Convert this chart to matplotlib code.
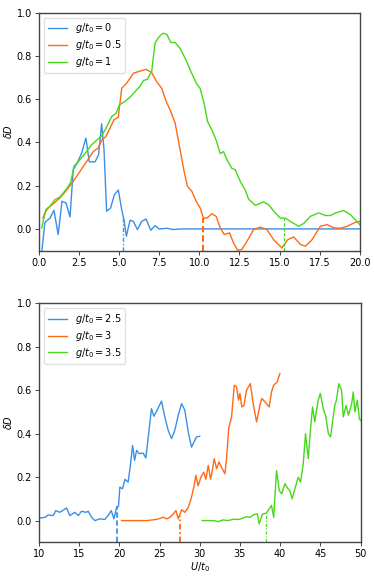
import matplotlib
matplotlib.use("Agg")
import matplotlib.pyplot as plt

# ---------- top panel data ----------
x_g0 = [0.19, 0.37, 0.69, 0.94, 1.2, 1.44, 1.69, 1.94, 2.14, 2.39, 2.66, 2.93, 3.14, 3.5, 3.72, 3.91,
        4.06, 4.22, 4.47, 4.7, 4.95, 5.16, 5.3, 5.45, 5.68, 5.89, 6.14, 6.41, 6.68, 6.97, 7.24, 7.5,
        7.97, 8.4, 8.8, 10.0, 12.0, 14.0, 16.0, 18.0, 20.0]
y_g0 = [-0.1, 0.03, 0.05, 0.086, -0.026, 0.128, 0.12, 0.055, 0.274, 0.305, 0.35, 0.42, 0.31, 0.31, 0.343, 0.486,
        0.366, 0.082, 0.097, 0.158, 0.18, 0.09, 0.043, -0.034, 0.04, 0.035, -0.003, 0.035, 0.046, -0.006, 0.015, 0.0,
        0.003, -0.003, 0.0, 0.0, 0.0, 0.0, 0.0, 0.0, 0.0]

x_g05 = [0.25, 0.37, 0.58, 0.9, 1.31, 1.73, 2.14, 2.56, 2.98, 3.39, 3.7, 3.91, 4.18, 4.43, 4.68, 4.95, 5.16,
         5.47, 5.89, 6.31, 6.68, 7.03, 7.35, 7.66, 7.93, 8.18, 8.49, 8.8, 9.05, 9.26, 9.53, 9.8, 10.05,
         10.26, 10.47, 10.78, 11.05, 11.3, 11.55, 11.88, 12.13, 12.38, 12.65, 12.97, 13.38, 13.8, 14.21,
         14.63, 15.15, 15.5, 15.88, 16.3, 16.61, 17.02, 17.54, 17.96, 18.38, 18.8, 19.2, 19.73, 20.0]
y_g05 = [0.05, 0.074, 0.097, 0.117, 0.143, 0.18, 0.22, 0.266, 0.312, 0.358, 0.374, 0.41, 0.428, 0.466, 0.505, 0.517, 0.65,
         0.674, 0.72, 0.73, 0.738, 0.723, 0.68, 0.65, 0.59, 0.55, 0.49, 0.366, 0.266, 0.197, 0.174, 0.128, 0.097,
         0.05, 0.05, 0.07, 0.058, 0.005, -0.026, -0.018, -0.065, -0.098, -0.095, -0.057, -0.003, 0.008, -0.003,
         -0.05, -0.088, -0.05, -0.037, -0.072, -0.08, -0.05, 0.012, 0.02, 0.005, 0.003, 0.012, 0.031, 0.035]

x_g1 = [0.17, 0.44, 0.69, 1.0, 1.31, 1.73, 1.98, 2.19, 2.56, 2.93, 3.29, 3.6, 3.91, 4.18, 4.54, 4.81, 5.02,
        5.37, 5.72, 5.99, 6.31, 6.51, 6.76, 7.03, 7.24, 7.45, 7.72, 7.97, 8.22, 8.49, 8.8, 9.18, 9.47, 9.84,
        10.05, 10.3, 10.51, 10.78, 11.05, 11.3, 11.51, 11.72, 12.03, 12.24, 12.55, 12.86, 13.07, 13.49, 14.0,
        14.32, 14.73, 15.05, 15.36, 15.67, 16.19, 16.5, 16.92, 17.44, 17.86, 18.17, 18.48, 19.0, 19.42, 20.0]
y_g1 = [0.005, 0.09, 0.105, 0.135, 0.148, 0.185, 0.215, 0.29, 0.32, 0.354, 0.39, 0.41, 0.43, 0.466, 0.52, 0.535, 0.574,
        0.59, 0.612, 0.635, 0.66, 0.686, 0.692, 0.728, 0.86, 0.885, 0.905, 0.9, 0.862, 0.862, 0.835, 0.78, 0.728, 0.67,
        0.65, 0.58, 0.497, 0.458, 0.41, 0.348, 0.358, 0.32, 0.28, 0.274, 0.22, 0.18, 0.138, 0.109, 0.125,
        0.112, 0.074, 0.05, 0.05, 0.035, 0.012, 0.025, 0.058, 0.074, 0.062, 0.062, 0.074, 0.085, 0.066, 0.02]

top_labels = [r"$g/t_0 = 0$", r"$g/t_0 = 0.5$", r"$g/t_0 = 1$"]
top_vx = [5.25, 10.25, 15.25]
top_vy = [0.05, 0.05, 0.05]

# ---------- bottom panel data ----------
x_g25 = [10.2, 10.75, 11.16, 11.78, 12.1, 12.6, 12.94, 13.44, 13.85, 14.48, 14.9, 15.3, 15.85, 16.13, 16.55,
         16.96, 17.58, 18.2, 18.6, 19.0, 19.33, 19.66, 19.9, 20.07, 20.4, 20.7, 21.1, 21.4, 21.65, 21.9, 22.15,
         22.48, 22.97, 23.3, 23.6, 24.0, 24.3, 24.7, 25.25, 25.66, 26.08, 26.5, 26.9, 27.33, 27.74, 28.15,
         28.57, 28.98, 29.6, 30.0]
y_g25 = [0.012, 0.015, 0.026, 0.023, 0.046, 0.038, 0.046, 0.058, 0.023, 0.038, 0.023, 0.043, 0.038, 0.043, 0.015,
         0.0, 0.008, 0.005, 0.023, 0.046, 0.008, 0.06, 0.065, 0.154, 0.146, 0.19, 0.177, 0.26, 0.346, 0.277, 0.323,
         0.308, 0.31, 0.288, 0.385, 0.515, 0.48, 0.508, 0.55, 0.477, 0.415, 0.377, 0.415, 0.485, 0.538, 0.508,
         0.408, 0.338, 0.385, 0.388]

x_g3 = [20.28, 21.7, 23.4, 24.6, 25.46, 25.88, 26.3, 26.7, 27.04, 27.33, 27.74, 28.15, 28.57, 28.98, 29.27,
        29.52, 29.8, 30.15, 30.5, 30.77, 31.06, 31.35, 31.6, 31.8, 32.1, 32.4, 32.7, 33.13, 33.34, 33.6, 33.96,
        34.3, 34.58, 34.83, 35.0, 35.24, 35.5, 35.82, 36.3, 36.65, 37.07, 37.48, 37.73, 38.3, 38.64, 38.93,
        39.2, 39.64, 39.97]
y_g3 = [0.0, 0.0, 0.0, 0.005, 0.015, 0.008, 0.015, 0.03, 0.046, 0.008, 0.05, 0.038, 0.06, 0.108, 0.154,
        0.208, 0.16, 0.2, 0.223, 0.19, 0.254, 0.19, 0.238, 0.285, 0.238, 0.27, 0.246, 0.215, 0.285, 0.423, 0.477,
        0.623, 0.615, 0.554, 0.585, 0.523, 0.53, 0.6, 0.63, 0.538, 0.454, 0.53, 0.562, 0.538, 0.523, 0.592,
        0.623, 0.638, 0.677]

x_g35 = [30.3, 31.7, 32.3, 32.9, 33.5, 34.2, 34.8, 35.3, 35.8, 36.3, 36.74, 37.15, 37.4, 37.8, 38.3, 38.64,
         38.93, 39.2, 39.55, 39.9, 40.2, 40.6, 41.0, 41.2, 41.5, 41.83, 42.25, 42.54, 42.87, 43.16, 43.5, 43.8,
         44.03, 44.3, 44.73, 45.0, 45.36, 45.7, 46.0, 46.27, 46.6, 46.8, 47.0, 47.3, 47.64, 47.85, 48.2, 48.5,
         48.9, 49.1, 49.3, 49.6, 49.85, 50.0]
y_g35 = [0.0, 0.0, -0.005, 0.003, 0.0, 0.006, 0.005, 0.01, 0.018, 0.015, 0.028, 0.03, -0.015, 0.03, 0.034, 0.054,
         0.07, 0.015, 0.23, 0.138, 0.123, 0.17, 0.146, 0.138, 0.1, 0.146, 0.2, 0.177, 0.26, 0.4, 0.285, 0.43,
         0.523, 0.454, 0.554, 0.585, 0.515, 0.477, 0.4, 0.385, 0.477, 0.53, 0.554, 0.63, 0.6, 0.477, 0.53, 0.485,
         0.538, 0.592, 0.5, 0.554, 0.47, 0.46]

bot_labels = [r"$g/t_0 = 2.5$", r"$g/t_0 = 3$", r"$g/t_0 = 3.5$"]
bot_vx = [19.75, 27.5, 38.25]
bot_vy = [0.065, 0.02, 0.03]

colors = ["#3a8fe8", "#ff6a14", "#46d81a"]

plt.rcParams["font.family"] = "DejaVu Sans"
plt.rcParams["font.size"] = 7
plt.rcParams["mathtext.fontset"] = "dejavusans"

fig = plt.figure(figsize=(3.74, 5.76), dpi=100)
ax1 = fig.add_axes([0.104, 0.565, 0.858, 0.413])
ax2 = fig.add_axes([0.104, 0.0585, 0.860, 0.415])

for ax in (ax1, ax2):
    for s in ax.spines.values():
        s.set_color("#444444")
        s.set_linewidth(1.0)
    ax.tick_params(direction="out", length=3, width=0.7, color="#444444", labelsize=7, pad=2)
    ax.set_ylim(-0.1, 1.0)
    ax.set_yticks([0.0, 0.2, 0.4, 0.6, 0.8, 1.0])
    ax.set_ylabel(r"$\delta D$", fontsize=7, labelpad=2)

leg_kw = dict(loc="upper left", fontsize=7, frameon=True, handlelength=2.0, borderpad=0.4,
              labelspacing=0.3, handletextpad=0.8, edgecolor="#dddddd", framealpha=0.9)

tops = [(x_g0, y_g0), (x_g05, y_g05), (x_g1, y_g1)]
dstyles_top = [(3, 1.5, 1, 1.5), (3, 1.5), (3, 1.5)]
vlw_top = [1.0, 1.5, 0.8]
for (xx, yy), c, lab in zip(tops, colors, top_labels):
    ax1.plot(xx, yy, color=c, lw=1.0, label=lab)
for vx, vy, c, ds, lw in zip(top_vx, top_vy, colors, dstyles_top, vlw_top):
    ax1.plot([vx, vx], [-0.1, vy], color=c, lw=lw, dashes=ds)
ax1.set_xlim(0, 20)
ax1.set_xticks([0, 2.5, 5, 7.5, 10, 12.5, 15, 17.5, 20])
ax1.set_xticklabels(["0.0", "2.5", "5.0", "7.5", "10.0", "12.5", "15.0", "17.5", "20.0"])
ax1.legend(**leg_kw)

bots = [(x_g25, y_g25), (x_g3, y_g3), (x_g35, y_g35)]
dstyles_bot = [(3, 1.5), (3, 1.5, 1, 1.5), (3, 1.5, 1, 1.5)]
vlw_bot = [1.3, 1.3, 0.8]
for (xx, yy), c, lab in zip(bots, colors, bot_labels):
    ax2.plot(xx, yy, color=c, lw=1.0, label=lab)
for vx, vy, c, ds, lw in zip(bot_vx, bot_vy, colors, dstyles_bot, vlw_bot):
    ax2.plot([vx, vx], [-0.1, vy], color=c, lw=lw, dashes=ds)
ax2.set_xlim(10, 50)
ax2.set_xticks([10, 15, 20, 25, 30, 35, 40, 45, 50])
ax2.set_xlabel(r"$U/t_0$", fontsize=7, labelpad=1)
ax2.legend(**leg_kw)

fig.savefig("out.png", dpi=100)
